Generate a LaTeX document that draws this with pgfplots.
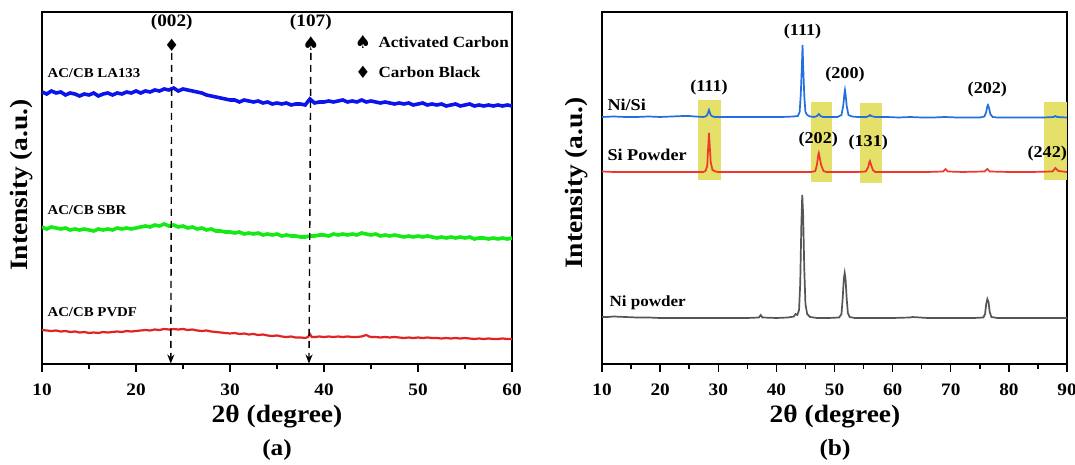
\documentclass[border=0pt]{standalone}
\usepackage{fontspec}
\setmainfont{Liberation Serif}[FakeStretch=1.1]
\newfontfamily\symfont{DejaVu Sans}
\usepackage{pgfplots}
\pgfplotsset{compat=1.18}
\usetikzlibrary{arrows.meta}
\definecolor{cBlueA}{RGB}{10,20,235}
\definecolor{cGreenA}{RGB}{20,235,20}
\definecolor{cRedA}{RGB}{225,35,35}
\definecolor{cBlueB}{RGB}{35,110,225}
\definecolor{cRedB}{RGB}{240,55,45}
\definecolor{cGrayB}{RGB}{85,85,85}
\definecolor{cYel}{RGB}{228,224,105}
\newcommand{\fs}[1]{\bfseries\fontsize{#1}{#1}\selectfont}
\pgfplotsset{xrd/.style={
  scale only axis, anchor=south west,
  height=352pt, ymin=0, ymax=352,
  axis line style={line width=1.6pt},
  every tick/.style={line width=1.4pt, black},
  major tick length=8pt, minor tick length=5pt,
  tick align=outside, xtick pos=bottom, ytick=\empty,
  minor x tick num=1,
  /pgf/number format/assume math mode=true,
  xticklabel style={font=\fs{17.5}, yshift=-8pt},
}}
\begin{document}
\begin{tikzpicture}[x=1pt,y=1pt]
\useasboundingbox (0pt,0pt) rectangle (1075pt,465pt);
% ---------------- panel (a)
\begin{axis}[xrd, at={(42pt,101pt)}, width=470pt, xmin=10, xmax=60, xtick={10,20,...,60}]
\addplot[cBlueA, line width=3.6pt] coordinates {
(10,272)(10.5,270)(11,273)(11.5,271)(12,272)(12.5,269)(13,271)(13.5,270)(14,268)(14.5,270)(15,269)(15.5,271)(16,268)(16.5,270)(17,271)(17.5,269)(18,271)(18.5,270)(19,272)(19.5,271)(20,273)(20.5,271)(21,273)(21.5,272)(22,274)(22.5,273)(23,275)(23.5,274)(24,276)(24.5,273)(25,275)(25.5,274)(26,273)(26.5,272)(27,271)(27.5,269)(28,268)(28.5,267)(29,266)(29.5,265)(30,264)(30.5,264)(31,262)(31.5,264)(32,263)(32.5,262)(33,263)(33.5,261)(34,262)(34.5,260)(35,261)(35.5,260)(36,261)(36.5,259)(37,260)(37.5,260)(38,259)(38.5,265)(39,261)(39.5,262)(40,262)(40.5,263)(41,262)(41.5,263)(42,264)(42.5,262)(43,263)(43.5,262)(44,264)(44.5,262)(45,263)(45.5,262)(46,261)(46.5,262)(47,261)(47.5,260)(48,261)(48.5,260)(49,261)(49.5,259)(50,260)(50.5,261)(51,259)(51.5,260)(52,259)(52.5,260)(53,258)(53.5,259)(54,260)(54.5,258)(55,259)(55.5,260)(56,258)(56.5,259)(57,258)(57.5,259)(58,258)(58.5,259)(59,258)(59.5,259)(60,258)};
\addplot[cGreenA, line width=3.6pt] coordinates {
(10,137)(10.5,135)(11,137)(11.5,136)(12,135)(12.5,136)(13,134)(13.5,135)(14,134)(14.5,135)(15,134)(15.5,133)(16,135)(16.5,134)(17,135)(17.5,134)(18,136)(18.5,135)(19,136)(19.5,135)(20,136)(20.5,137)(21,138)(21.5,137)(22,139)(22.5,138)(23,140)(23.5,138)(24,139)(24.5,137)(25,138)(25.5,136)(26,137)(26.5,135)(27,136)(27.5,134)(28,135)(28.5,133)(29,133)(29.5,132)(30,132)(30.5,131)(31,132)(31.5,130)(32,131)(32.5,130)(33,131)(33.5,129)(34,130)(34.5,129)(35,130)(35.5,128)(36,129)(36.5,128)(37,128)(37.5,127)(38,127)(38.5,128)(39,128)(39.5,129)(40,129)(40.5,128)(41,130)(41.5,129)(42,130)(42.5,129)(43,130)(43.5,129)(44,131)(44.5,130)(45,129)(45.5,130)(46,128)(46.5,129)(47,128)(47.5,129)(48,128)(48.5,127)(49,128)(49.5,127)(50,128)(50.5,127)(51,128)(51.5,127)(52,126)(52.5,127)(53,126)(53.5,127)(54,126)(54.5,127)(55,126)(55.5,127)(56,125)(56.5,126)(57,126)(57.5,125)(58,126)(58.5,125)(59,126)(59.5,125)(60,126)};
\addplot[cRedA, line width=2.2pt] coordinates {
(10,34)(10.5,33.5)(11,33)(11.5,33.5)(12,32.5)(12.5,33)(13,32)(13.5,32.5)(14,31.5)(14.5,32)(15,31)(15.5,31.5)(16,31)(16.5,32)(17,31.5)(17.5,32)(18,32.5)(18.5,32)(19,33)(19.5,32.5)(20,33)(20.5,33.5)(21,34)(21.5,33.5)(22,34.5)(22.5,34)(23,35)(23.5,34.5)(24,35)(24.5,34.5)(25,35)(25.5,34)(26,34.5)(26.5,33.5)(27,33)(27.5,33.5)(28,32.5)(28.5,32)(29,31.5)(29.5,31)(30,30.5)(30.5,31)(31,30)(31.5,30.5)(32,29.5)(32.5,30)(33,29)(33.5,29.5)(34,28.5)(34.5,28)(35,28.5)(35.5,27.5)(36,27)(36.5,27.5)(37,26.5)(37.5,26.5)(38,26)(38.3,27)(38.5,30)(38.7,27)(39,27)(39.5,27.5)(40,27)(40.5,27.5)(41,27)(41.5,27.5)(42,27)(42.5,27.5)(43,27)(43.5,27)(44,27.5)(44.5,29)(44.8,27.5)(45,27)(45.5,27)(46,26.5)(46.5,27)(47,26.5)(47.5,27)(48,26.5)(48.5,26)(49,26.5)(49.5,26)(50,26.5)(50.5,26)(51,26.5)(51.5,26)(52,26)(52.5,25.5)(53,26)(53.5,25.5)(54,26)(54.5,25.5)(55,26)(55.5,25.5)(56,25)(56.5,25.5)(57,25)(57.5,25.5)(58,25)(58.5,25)(59,25.5)(59.5,25)(60,25)};
\draw[line width=1.4pt, dash pattern=on 7pt off 5pt, -{Stealth[length=9pt,width=7pt]}] (axis cs:23.8,311) -- (axis cs:23.7,0.5);
\draw[line width=1.4pt, dash pattern=on 7pt off 5pt, -{Stealth[length=9pt,width=7pt]}] (axis cs:38.6,311) -- (axis cs:38.4,0.5);
\node[font=\symfont\fontsize{17}{17}\selectfont] at (axis cs:23.8,319) {♦};
\node[font=\symfont\fontsize{19}{19}\selectfont] at (axis cs:38.6,320) {♠};
\node[font=\fs{17.5}] at (axis cs:23.8,342) {(002)};
\node[font=\fs{17.5}] at (axis cs:38.6,342) {(107)};
\end{axis}
% ---------------- panel (b)
\begin{axis}[xrd, at={(602pt,101pt)}, width=465pt, xmin=10, xmax=90, xtick={10,20,...,90}]
\fill[cYel] (axis cs:26.5,184) rectangle (axis cs:30.4,264);
\fill[cYel] (axis cs:45.95,182) rectangle (axis cs:49.6,262);
\fill[cYel] (axis cs:54.4,181) rectangle (axis cs:58.2,261);
\fill[cYel] (axis cs:86.0,184) rectangle (axis cs:90,262);
\addplot[cBlueB, line width=1.7pt] coordinates {
(10,247)(12,247.5)(14,247)(16,247)(18,247.5)(20,247)(22,247.5)(24,248)(25,248)(26,247.5)(27.4,247)(27.8,247.5)(28.1,249)(28.4,254)(28.7,249)(29.0,247.5)(29.4,247)(31,247)(33,247)(35,247)(37,247)(39,247)(41,247)(43,247.5)(43.7,248)(44.0,252)(44.2,270)(44.4,300)(44.5,319)(44.6,300)(44.8,268)(45.0,252)(45.3,249)(45.8,247.5)(46.5,247)(47.0,248)(47.3,250)(47.6,248)(48,247)(49,247)(50.5,247)(51.2,249)(51.5,258)(51.7,270)(51.8,274)(51.9,270)(52.1,258)(52.4,249)(53,247.5)(54,247)(55.5,247)(55.9,248)(56.1,249)(56.3,248)(57,247)(59,247)(61,246.5)(63,247)(65,246.5)(67,246.5)(69,247)(71,246.5)(73,246.5)(75,246.5)(75.8,247.5)(76.1,252)(76.3,258)(76.4,259)(76.6,256)(76.8,250)(77.2,247)(78,246.5)(80,246.5)(82,246.5)(84,246.5)(86,246.5)(87.7,247)(88,248)(88.3,247)(90,246.5)};
\addplot[cRedB, line width=1.7pt] coordinates {
(10,192.5)(12,192)(15,192)(18,192)(20,192)(22,192)(24,192)(26,192)(27.4,192)(27.8,193)(28.1,198)(28.3,220)(28.4,231)(28.5,222)(28.7,202)(29.0,194)(29.5,192.5)(30,192)(33,192)(36,192)(39,192)(42,192)(44,192)(46,192)(46.7,193)(47.0,200)(47.2,209)(47.3,211)(47.4,208)(47.7,199)(48.1,193)(48.6,192)(51,192)(54,192)(55.4,192.5)(55.8,197)(56.0,202)(56.1,203)(56.3,199)(56.6,194)(57,192)(60,192)(63,192)(66,192)(68.7,192.5)(69.1,195)(69.5,192.5)(72,192)(75.8,192.5)(76.3,195)(76.7,192.5)(80,192)(84,192)(87.5,192.5)(88,196)(88.5,193)(90,192)};
\addplot[cGrayB, line width=1.7pt] coordinates {
(10,47)(11,47)(12,47.5)(14,47)(16,46.5)(18,46.5)(20,46)(25,46)(30,46)(35,46)(37,46.5)(37.3,49)(37.6,46.5)(40,46)(42,46.5)(43.0,47.5)(43.3,50)(43.6,49)(43.9,54)(44.1,80)(44.3,140)(44.45,169)(44.6,150)(44.8,95)(45.0,60)(45.3,50)(45.8,47)(47,46)(49,46)(50.8,46.5)(51.2,50)(51.4,65)(51.6,85)(51.75,91)(51.9,85)(52.1,65)(52.3,51)(52.6,47)(53.5,46)(56,46)(60,46)(63,46.5)(63.4,47)(66,46)(70,46)(74,46)(75.6,46.5)(75.9,50)(76.1,60)(76.3,65)(76.5,62)(76.7,52)(77.0,47)(78,46)(82,46)(86,46)(90,46)};
\node[font=\fs{16.5}] at (axis cs:44.5,332) {(111)};
\node[font=\fs{16.5}] at (axis cs:51.8,289) {(200)};
\node[font=\fs{16.5}] at (axis cs:28.4,276) {(111)};
\node[font=\fs{16.5}] at (axis cs:76.3,274) {(202)};
\node[font=\fs{16.5}] at (axis cs:47.2,224) {(202)};
\node[font=\fs{16.5}] at (axis cs:55.8,221) {(131)};
\node[font=\fs{16.5}] at (axis cs:86.6,210) {(242)};
\end{axis}
% ---------------- text outside / labels
\node[anchor=west, font=\fs{13.5}] at (44pt,392pt) {AC/CB LA133};
\node[anchor=west, font=\fs{13.5}] at (44pt,255pt) {AC/CB SBR};
\node[anchor=west, font=\fs{13.5}] at (44pt,153pt) {AC/CB PVDF};
\node[font=\symfont\fontsize{18}{18}\selectfont] at (363pt,423pt) {♠};
\node[anchor=west, font=\fs{15.5}] at (375pt,423pt) {Activated Carbon};
\node[font=\symfont\fontsize{17}{17}\selectfont] at (363pt,393pt) {♦};
\node[anchor=west, font=\fs{15.5}] at (375pt,393pt) {Carbon Black};
\node[anchor=west, font=\fs{16.5}] at (604pt,360pt) {Ni/Si};
\node[anchor=west, font=\fs{16.5}] at (604pt,310pt) {Si Powder};
\node[anchor=west, font=\fs{15.5}] at (606pt,162pt) {Ni powder};
\node[font=\fs{25}] at (277pt,48pt) {2θ (degree)};
\node[font=\fs{25}] at (835pt,48pt) {2θ (degree)};
\node[font=\fs{23}] at (277pt,15pt) {(a)};
\node[font=\fs{23}] at (835pt,15pt) {(b)};
\node[rotate=90, font=\fs{25}] at (22pt,280pt) {Intensity (a.u.)};
\node[rotate=90, font=\fs{25}] at (577pt,282pt) {Intensity (a.u.)};
\end{tikzpicture}
\end{document}
